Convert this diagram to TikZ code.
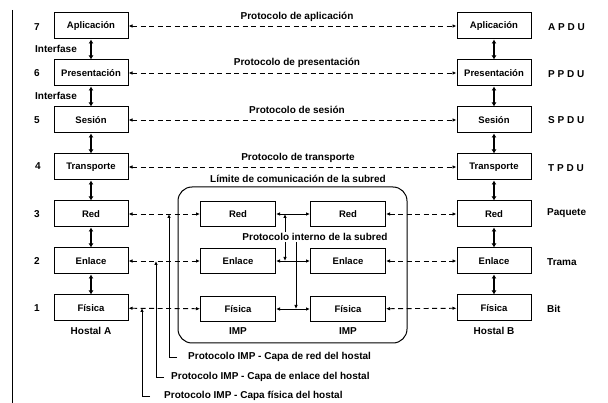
\documentclass[tikz,border=0pt]{standalone}
\usepackage{fontspec}
\setmainfont{Liberation Sans}
\usetikzlibrary{arrows.meta,calc}
\begin{document}
\begin{tikzpicture}[x=1pt,y=-1pt,
  lay/.style={draw,line width=1pt,minimum width=74pt,minimum height=26pt,inner sep=1pt,font=\fontsize{9.5}{10}\selectfont\bfseries},
  imp/.style={lay,minimum width=75pt,minimum height=25pt},
  txt/.style={font=\fontsize{10}{11}\selectfont\bfseries,inner sep=1pt},
  proto/.style={dash pattern=on 5pt off 3.5pt,line width=0.9pt,{Latex[length=4pt,width=3.5pt]}-{Latex[length=4pt,width=3.5pt]}},
  solidarr/.style={line width=0.9pt,{Latex[length=4pt,width=3.5pt]}-{Latex[length=4pt,width=3.5pt]}},
  onearr/.style={line width=0.9pt,-{Latex[length=4pt,width=3.5pt]}},
  updown/.style={line width=1.6pt,{Latex[length=4pt,width=5pt]}-{Latex[length=4pt,width=5pt]}},
]
\useasboundingbox (0,0) rectangle (608,403);
% left margin line
\draw[line width=0.6pt] (12,10) -- (12,403);

% Host A stack
\node[lay] (A7) at (91,26)  {Aplicación};
\node[lay] (A6) at (91,73)  {Presentación};
\node[lay] (A5) at (91,120) {Sesión};
\node[lay] (A4) at (91,167) {Transporte};
\node[lay] (A3) at (91,214) {Red};
\node[lay] (A2) at (91,261) {Enlace};
\node[lay] (A1) at (91,308) {Física};
% Host B stack
\node[lay] (B7) at (494,26)  {Aplicación};
\node[lay] (B6) at (494,73)  {Presentación};
\node[lay] (B5) at (494,120) {Sesión};
\node[lay] (B4) at (494,167) {Transporte};
\node[lay] (B3) at (494,214) {Red};
\node[lay] (B2) at (494,261) {Enlace};
\node[lay] (B1) at (494,308) {Física};

% subnet boundary
\draw[line width=1pt,rounded corners=14pt] (178,187) rectangle (407,343);
% IMPs
\node[imp] (IL3) at (238,214) {Red};
\node[imp] (IL2) at (238,261) {Enlace};
\node[imp] (IL1) at (238,309) {Física};
\node[imp] (IR3) at (348,214) {Red};
\node[imp] (IR2) at (348,261) {Enlace};
\node[imp] (IR1) at (348,309) {Física};

% layer numbers
\node[txt] (n7) at (37,27)  {7};
\node[txt] (n6) at (37,73)  {6};
\node[txt] (n5) at (37,120) {5};
\node[txt] (n4) at (38,166) {4};
\node[txt] (n3) at (37,214) {3};
\node[txt] (n2) at (37,261) {2};
\node[txt] (n1) at (37,308) {1};
\node[txt] (if1) at (56,49) {Interfase};
\node[txt] (if2) at (56,96) {Interfase};

% unit names
\node[txt,anchor=west] (u7) at (547,27)  {A P D U};
\node[txt,anchor=west] (u6) at (547,74)  {P P D U};
\node[txt,anchor=west] (u5) at (547,120) {S P D U};
\node[txt,anchor=west] (u4) at (547,168) {T P D U};
\node[txt,anchor=west] (u3) at (546,213) {Paquete};
\node[txt,anchor=west] (u2) at (546,262) {Trama};
\node[txt,anchor=west] (u1) at (546,309) {Bit};

% host / IMP labels
\node[txt] (hA) at (91,331)  {Hostal A};
\node[txt] (hB) at (494,331) {Hostal B};
\node[txt] (mL) at (238,331) {IMP};
\node[txt] (mR) at (348,331) {IMP};

% stack arrows
\foreach \s in {A,B}{
  \draw[updown] (\s7) -- (\s6);
  \draw[updown] (\s6) -- (\s5);
  \draw[updown] (\s5) -- (\s4);
  \draw[updown] (\s4) -- (\s3);
  \draw[updown] (\s3) -- (\s2);
  \draw[updown] (\s2) -- (\s1);
}

% peer protocols
\draw[proto] (A7) -- (B7);
\draw[proto] (A6) -- (B6);
\draw[proto] (A5) -- (B5);
\draw[proto] (A4) -- (B4);
\node[txt] (p7) at (297,17)  {Protocolo de aplicación};
\node[txt] (p6) at (297,63)  {Protocolo de presentación};
\node[txt] (p5) at (297,110) {Protocolo de sesión};
\node[txt] (p4) at (298,158) {Protocolo de transporte};
\node[txt] (lim) at (298,179) {Límite de comunicación de la subred};

% host <-> IMP
\draw[proto] (A3) -- (IL3);
\draw[proto] (A2) -- (IL2);
\draw[proto] (A1) -- (IL1);
\draw[proto] (IR3) -- (B3);
\draw[proto] (IR2) -- (B2);
\draw[proto] (IR1) -- (B1);

% IMP <-> IMP
\draw[solidarr] (IL3) -- (IR3);
\draw[solidarr] (IL2) -- (IR2);
\draw[solidarr] (IL1) -- (IR1);

% subnet internal protocol label
\node[txt] (pis) at (315,237) {Protocolo interno de la subred};
\coordinate (v1) at (285,0);
\coordinate (v2) at (296,0);
\draw[onearr] (pis.north -| v1) -- (IL3.east -| v1);
\draw[onearr] (pis.south -| v1) -- (IL2.east -| v1);
\draw[onearr] (pis.south -| v2) -- (IL1.east -| v2);

% IMP-host protocol labels
\node[txt,anchor=west] (lab1) at (187,357) {Protocolo IMP - Capa de red del hostal};
\node[txt,anchor=west] (lab2) at (170,377) {Protocolo IMP - Capa de enlace del hostal};
\node[txt,anchor=west] (lab3) at (163,396) {Protocolo IMP - Capa física del hostal};
\coordinate (b1) at (169,0);
\coordinate (b2) at (156,0);
\coordinate (b3) at (142,0);
\draw[onearr] ([xshift=-10pt]lab1.west) -| (b1 |- A3.east);
\draw[onearr] ([xshift=-6pt]lab2.west) -| (b2 |- A2.east);
\draw[onearr] ([xshift=-13pt]lab3.west) -| (b3 |- A1.east);
\end{tikzpicture}
\end{document}
